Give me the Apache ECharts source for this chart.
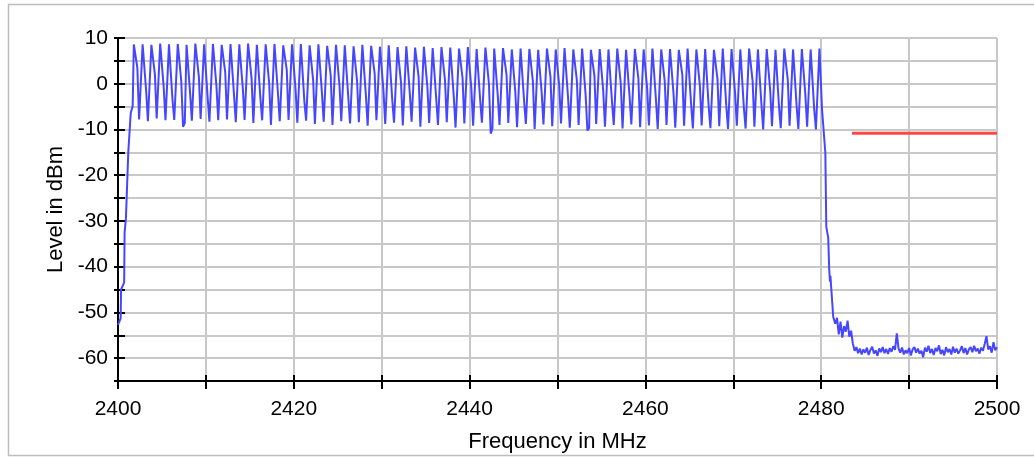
<!DOCTYPE html>
<html><head><meta charset="utf-8">
<script src="https://cdn.jsdelivr.net/npm/echarts@6/dist/echarts.min.js"></script>
<style>html,body{margin:0;padding:0;background:#fff}#c{width:1034px;height:457px}</style>
</head><body><div id="c"></div>
<script>
// ---- tick labels ----
const xTickLabels = [2400, 2420, 2440, 2460, 2480, 2500];
const yTickLabels = [10, 0, -10, -20, -30, -40, -50, -60];

// ---- rising band edge (MHz, dBm) ----
const riseFreq  = [2400, 2400.3, 2400.35, 2400.7, 2400.75, 2400.9, 2401.17, 2401.45, 2401.67];
const riseLevel = [-52.7, -51.3, -45.0, -43.5, -32.6, -29.5, -15.0, -6.4, -4.9];

// ---- in-band hopping trace, sampled every 0.2 MHz from 2401.8 MHz ----
const bandStartMHz = 2401.8;
const bandStepMHz = 0.2;
const bandLevels = [
  8.6, 8.7, 3.5, -7.8, -7.6,   8.6, 8.8, -1.5, -8.2, -7.9,   8.5, 8.6, 2.0, -7.6, -7.8,   8.8, 8.7, -0.8, -8.0, -7.7,
  8.6, 8.5, -3.5, -7.9, -8.1,  8.7, 8.8, 0.5, -9.4, -8.6,    8.5, 8.6, -2.0, -8.1, -7.8,  8.8, 8.7, 1.5, -7.7, -7.9,
  8.6, 8.5, -3.0, -8.3, -8.0,  8.7, 8.8, -0.5, -8.0, -8.2,   8.5, 8.6, 2.5, -7.8, -7.6,   8.7, 8.5, -2.5, -8.4, -8.1,
  8.6, 8.7, -1.0, -7.9, -8.2,  8.8, 8.6, 1.0, -8.6, -8.3,    8.5, 8.8, -3.2, -8.0, -7.8,  8.6, 8.5, 0.0, -9.0, -8.7,
  8.7, 8.7, -2.2, -8.2, -8.0,  8.4, 8.6, 3.0, -7.9, -8.1,    8.6, 8.5, -1.2, -8.5, -8.2,  8.7, 8.6, -3.8, -8.1, -8.4,
  8.4, 8.4, 0.8, -8.8, -8.5,   8.6, 8.5, -2.0, -8.3, -8.6,   8.3, 8.3, 1.8, -9.0, -8.7,   8.5, 8.6, -0.5, -8.2, -8.5,
  8.4, 8.4, -3.0, -8.7, -8.4,  8.2, 8.2, 0.5, -8.4, -8.8,    8.5, 8.5, -2.5, -9.2, -8.9,  8.3, 8.3, 2.2, -8.0, -8.3,
  8.1, 8.1, -1.5, -8.8, -8.5,  8.4, 8.4, -3.5, -8.5, -8.8,   8.0, 8.0, 0.2, -9.1, -8.8,   8.2, 8.2, -2.2, -8.3, -8.6,
  7.9, 7.8, 1.5, -9.4, -9.1,   8.1, 8.1, -0.8, -8.6, -8.9,   7.8, 7.9, -3.2, -9.0, -8.7,  8.0, 7.7, 0.8, -8.4, -8.8,
  7.9, 8.0, -2.8, -9.6, -9.2,  7.7, 7.8, 1.2, -8.7, -9.0,    8.0, 8.0, -1.0, -9.2, -8.9,  7.6, 7.7, -3.5, -8.5, -8.8,
  7.9, 7.9, 0.0, -10.9, -9.8,  7.7, 7.6, -2.5, -9.0, -9.3,   7.8, 7.8, 2.0, -8.6, -8.9,   7.5, 7.5, -1.8, -9.5, -9.2,
  7.7, 7.7, -3.8, -8.8, -9.1,  7.6, 7.6, 0.5, -9.9, -9.5,    7.4, 7.4, -2.0, -8.9, -9.2,  7.7, 7.7, 1.5, -9.3, -9.0,
  7.5, 7.5, -0.5, -8.7, -9.0,  7.8, 7.8, -3.0, -9.6, -9.3,   7.5, 7.5, 0.8, -9.0, -9.4,   7.7, 7.7, -2.5, -10.2, -9.7,
  7.4, 7.4, 1.8, -8.8, -9.1,   7.6, 7.6, -1.5, -9.4, -9.1,   7.5, 7.5, -4.0, -9.0, -9.4,  7.7, 7.7, 0.0, -9.8, -9.5,
  7.4, 7.4, -2.8, -8.9, -9.2,  7.6, 7.6, 1.2, -9.5, -9.2,    7.5, 7.5, -1.0, -9.1, -9.4,  7.7, 7.7, -3.5, -9.9, -9.6,
  7.5, 7.5, 0.5, -9.0, -9.3,   7.6, 7.6, -2.2, -9.6, -9.3,   7.4, 7.4, 2.0, -9.2, -9.5,   7.7, 7.7, -4.5, -9.8, -9.5,
  7.5, 7.5, -0.5, -9.1, -9.4,  7.6, 7.6, -5.0, -9.7, -9.4,   7.4, 7.4, 1.0, -9.3, -9.6,   7.7, 7.7, -4.8, -9.9, -9.6,
  7.6, 7.6, -2.0, -9.2, -9.5,  7.5, 7.5, -5.2, -9.8, -9.5,   7.7, 7.7, 0.5, -9.4, -9.7,   7.5, 7.5, -4.5, -10.0, -9.7,
  7.6, 7.6, -1.5, -9.3, -9.6,  7.4, 7.4, -5.0, -9.7, -9.4,   7.7, 7.7, 0.8, -9.2, -9.5,   7.5, 7.5, -4.8, -9.9, -9.6,
  7.6, 7.6, -2.5, -9.4, -9.7,  7.5, 7.5, -5.5, -10.0, -9.7,
  7.7, 7.6
];

// ---- falling band edge (MHz, dBm) ----
const fallFreq  = [2480.1, 2480.47, 2480.58, 2480.8, 2480.91, 2481.0, 2481.05, 2481.14, 2481.37];
const fallLevel = [-5.7, -15.1, -31.3, -33.7, -40.5, -43.3, -42.0, -44.6, -51.0];

// ---- noise floor, sampled every 0.2 MHz from 2481.6 MHz ----
const floorStartMHz = 2481.6;
const floorStepMHz = 0.2;
const floorLevels = [
  -52.5, -51.2, -54.8, -52.0, -55.5, -53.0, -54.2, -51.8, -55.3, -54.0,
  -56.8, -58.4, -57.6, -58.9, -57.9, -59.2, -58.1, -58.8, -57.7, -59.3,
  -58.2, -57.5, -59.0, -58.3, -59.5, -57.9, -58.7, -57.6, -58.9, -58.0,
  -59.1, -57.8, -58.6, -57.4, -58.2, -54.6, -57.9, -58.8, -57.7, -59.2,
  -58.3, -58.9, -57.8, -59.4, -58.1, -57.6, -58.8, -57.9, -59.0, -58.4,
  -59.8, -57.7, -58.6, -57.3, -58.9, -58.0, -59.3, -57.8, -58.5, -57.2,
  -59.1, -58.2, -59.4, -57.6, -58.7, -58.0, -59.2, -57.5, -58.8, -57.9,
  -59.0, -58.3, -57.4, -58.9, -57.8, -59.2, -58.1, -57.6, -58.7, -57.3,
  -58.5, -57.9, -59.0, -57.7, -58.4, -56.9, -55.2, -58.1, -57.4, -58.8,
  -56.5, -58.3, -57.6
];

// ---- limit line ----
const limitFreq  = [2483.5, 2500];
const limitLevel = [-10.8, -10.8];

// build trace from the arrays
const trace = [];
riseFreq.forEach((f, i) => trace.push([f, riseLevel[i]]));
bandLevels.forEach((v, i) => trace.push([+(bandStartMHz + i * bandStepMHz).toFixed(2), v]));
fallFreq.forEach((f, i) => trace.push([f, fallLevel[i]]));
floorLevels.forEach((v, i) => trace.push([+(floorStartMHz + i * floorStepMHz).toFixed(2), v]));
const limit = limitFreq.map((f, i) => [f, limitLevel[i]]);

const FONT = 'Liberation Sans, Arial, Helvetica, sans-serif';
const black = { color: '#000', width: 2 };
const chart = echarts.init(document.getElementById('c'), null, { renderer: 'canvas' });
chart.setOption({
  animation: false,
  backgroundColor: '#fff',
  grid: { left: 118, right: 37, top: 38, bottom: 76, outerBoundsMode: 'none' },
  graphic: [{
    type: 'rect', silent: true, z: -100,
    shape: { x: 8.5, y: 4.5, width: 1040, height: 451 },
    style: { fill: 'none', stroke: '#bdbdbd', lineWidth: 1.5 }
  }],
  xAxis: [{
    type: 'value', min: 2400, max: 2500, interval: 10, position: 'bottom',
    axisLine: { onZero: false, lineStyle: black },
    axisTick: { show: true, length: 8, lineStyle: black },
    axisLabel: { formatter: v => xTickLabels.includes(v) ? String(v) : '', margin: 18,
      color: '#000', fontSize: 21, fontFamily: FONT },
    splitLine: { show: true, lineStyle: { color: '#c8c8c8', width: 2 } },
    name: 'Frequency in MHz', nameLocation: 'middle', nameGap: 50,
    nameTextStyle: { color: '#000', fontSize: 22, fontFamily: FONT }
  }, {
    type: 'value', min: 2400, max: 2500, interval: 10, position: 'bottom',
    axisLine: { show: false, onZero: false },
    axisTick: { show: true, inside: true, length: 6, lineStyle: black },
    axisLabel: { show: false }, splitLine: { show: false }
  }],
  yAxis: [{
    type: 'value', min: -65, max: 10, interval: 5, position: 'left',
    axisLine: { show: true, onZero: false, lineStyle: black },
    axisTick: { show: true, length: 4, lineStyle: black },
    axisLabel: { formatter: v => yTickLabels.includes(v) ? String(v) : '', margin: 10,
      color: '#000', fontSize: 21, fontFamily: FONT },
    splitLine: { show: true, lineStyle: { color: '#c8c8c8', width: 2 } },
    name: 'Level in dBm', nameLocation: 'middle', nameGap: 49,
    nameTextStyle: { color: '#000', fontSize: 22, fontFamily: FONT }
  }, {
    type: 'value', min: -65, max: 10, interval: 5, position: 'left',
    axisLine: { show: false, onZero: false },
    axisTick: { show: true, inside: true, length: 7, lineStyle: black },
    axisLabel: { show: false }, splitLine: { show: false }
  }],
  series: [{
    type: 'line', xAxisIndex: 0, yAxisIndex: 0, data: trace, showSymbol: false,
    lineStyle: { color: '#4646ff', width: 2 }, z: 3, clip: true
  }, {
    type: 'line', xAxisIndex: 0, yAxisIndex: 0, data: limit, showSymbol: false,
    lineStyle: { color: '#ff4646', width: 3 }, z: 4
  }]
});
</script></body></html>
